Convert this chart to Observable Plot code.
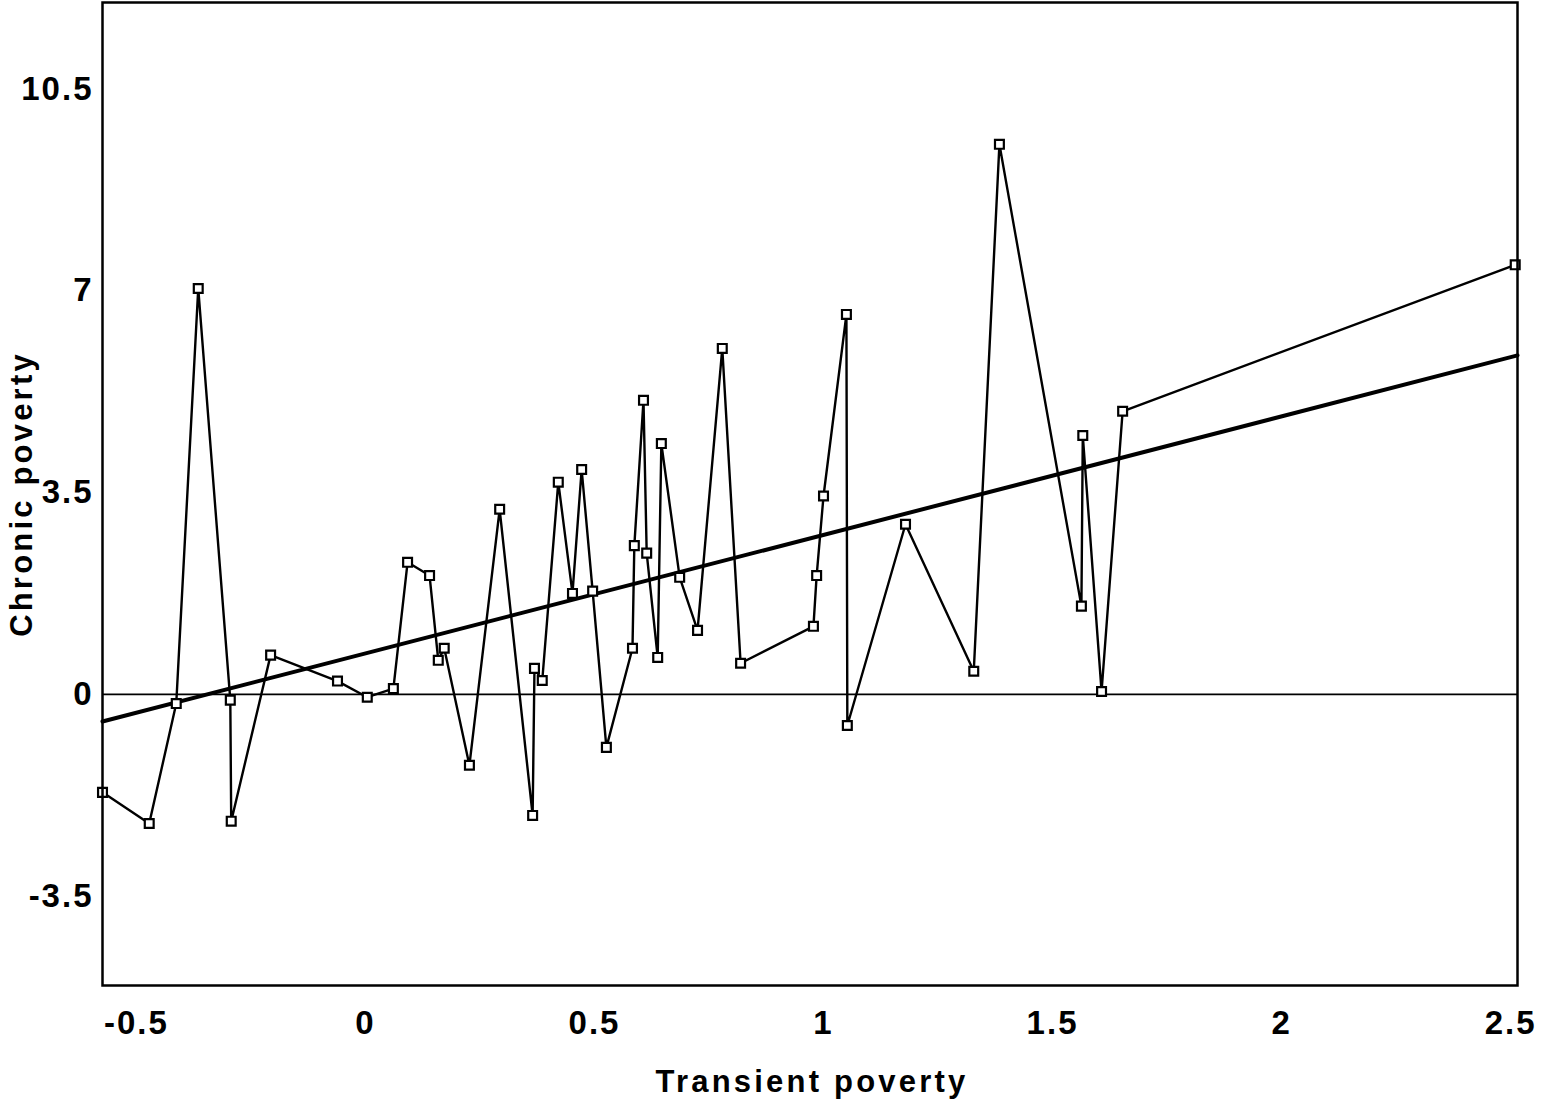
<!DOCTYPE html>
<html><head><meta charset="utf-8">
<script src="https://cdn.jsdelivr.net/npm/d3@7"></script>
<script src="https://cdn.jsdelivr.net/npm/@observablehq/plot@0.6"></script>
<style>body{margin:0;background:#fff;}</style>
</head><body><div id="chart"></div>
<script>
// Series (ordered as connected in the chart)
const transient = [-0.574, -0.472, -0.413, -0.365, -0.295, -0.293, -0.207, -0.061, 0.004, 0.061,
  0.092, 0.140, 0.159, 0.172, 0.227, 0.293, 0.365, 0.369, 0.386, 0.421,
  0.452, 0.472, 0.496, 0.526, 0.583, 0.587, 0.607, 0.614, 0.638, 0.646,
  0.686, 0.725, 0.779, 0.819, 0.978, 0.985, 1.000, 1.050, 1.052, 1.179,
  1.328, 1.384, 1.563, 1.566, 1.607, 1.653, 2.510];
const chronic = [-1.70, -2.24, -0.16, 7.04, -0.10, -2.20, 0.68, 0.23, -0.05, 0.10,
  2.29, 2.06, 0.59, 0.80, -1.23, 3.21, -2.10, 0.45, 0.24, 3.68,
  1.75, 3.90, 1.79, -0.92, 0.80, 2.58, 5.10, 2.45, 0.64, 4.35,
  2.03, 1.11, 6.00, 0.54, 1.18, 2.06, 3.44, 6.59, -0.54, 2.95,
  0.40, 9.54, 1.53, 4.49, 0.05, 4.91, 7.45];
// Fitted line end points
const fitX = [-0.574, 2.515];
const fitY = [-0.47, 5.88];
// Axes
const xTicks = [-0.5, 0, 0.5, 1, 1.5, 2, 2.5];
const yTicks = [-3.5, 0, 3.5, 7, 10.5];
const xDomain = [-0.574, 2.515];
const yDomain = [-5.05, 12.0];
const xLabel = "Transient poverty";
const yLabel = "Chronic poverty";

const points = transient.map((x, i) => ({x, y: chronic[i]}));
const fit = fitX.map((x, i) => ({x, y: fitY[i]}));

const chart = Plot.plot({
  width: 1541, height: 1114,
  marginLeft: 102, marginRight: 24, marginTop: 2, marginBottom: 129,
  style: {fontFamily: "'Liberation Sans', Arial, sans-serif", fontSize: "33px", fontWeight: "bold", background: "#fff", color: "#000"},
  x: {domain: xDomain, ticks: xTicks, tickSize: 0, tickPadding: 25, tickFormat: d => String(d), label: null},
  y: {domain: yDomain, ticks: yTicks, tickSize: 0, tickPadding: 9, tickFormat: d => String(d), label: null},
  marks: [
    Plot.ruleY([0], {stroke: "#000", strokeWidth: 1.6}),
    Plot.line(fit, {x: "x", y: "y", stroke: "#000", strokeWidth: 4}),
    Plot.line(points, {x: "x", y: "y", stroke: "#000", strokeWidth: 2.4}),
    Plot.dot(points, {x: "x", y: "y", symbol: "square", r: 5, fill: "#fff", stroke: "#000", strokeWidth: 2.2}),
    Plot.frame({stroke: "#000", strokeWidth: 2.5}),
    Plot.text([xLabel], {text: d => d, frameAnchor: "bottom", textAnchor: "middle", dy: 106, dx: 2, fontSize: 31, fontWeight: "bold", fill: "#000"}),
    Plot.text([yLabel], {text: d => d, frameAnchor: "left", textAnchor: "middle", rotate: -90, dx: -80, fontSize: 31, fontWeight: "bold", fill: "#000"})
  ]
});
d3.select(chart).selectAll("text").each(function() {
  const t = this.textContent;
  d3.select(this).style("letter-spacing", (t === xLabel || t === yLabel) ? "3.2px" : "2px");
});
document.getElementById("chart").appendChild(chart);
</script>
</body></html>
